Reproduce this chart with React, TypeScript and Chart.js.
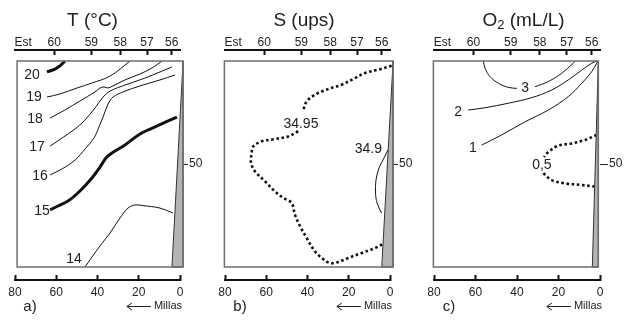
import React, { useEffect, useRef } from 'react';
import { Chart, registerables } from 'chart.js';
Chart.register(...registerables);

const FONT = '"Liberation Sans", Arial, Helvetica, sans-serif';

// ---- axis ticks ----
const milesTicks = [0, 20, 40, 60, 80];
const stationNames = ['Est', '60', '59', '58', '57', '56'];
const stationMiles = [76, 61, 43, 29, 16, 4];
const depthTicks = [50];
const boxDepth = [0, 100];

type Pt = number[] | null;

// ---- panel a: temperature (miles, depth) ----
const T20: Pt[] = [[64.5, 5.3], [60.6, 3.9], [58.2, 2.4], [55.8, 0]];
const T19: Pt[] = [[64.5, 17.5], [58.2, 16.0], [49.9, 13.1], [42.7, 10.7], [33.9, 7.3], [24.2, 0]];
const T18: Pt[] = [[63.0, 27.7], [55.8, 23.8], [48.5, 19.4], [41.2, 15.0], [38.8, 13.1], [36.8, 12.6], [34.9, 13.1], [32.5, 12.1], [26.7, 9.2], [19.4, 6.3], [13.6, 3.4], [8.7, 0]];
const T17: Pt[] = [[63.0, 41.3], [57.2, 37.4], [50.9, 33.0], [46.5, 29.1], [41.2, 22.8], [37.3, 17.5], [33.9, 14.6], [26.7, 11.7], [17.0, 8.3], [9.7, 5.3], [3.9, 2.9]];
const T16: Pt[] = [[63.0, 55.3], [57.2, 52.4], [50.9, 48.1], [45.6, 42.2], [41.7, 37.4], [39.3, 32.0], [37.3, 27.2], [34.9, 20.9], [32.5, 17.5], [27.6, 15.0], [19.4, 12.1], [9.7, 9.2], [2.4, 6.8]];
const T15: Pt[] = [[63.0, 72.3], [59.2, 70.4], [54.3, 68.0], [48.5, 63.1], [42.7, 56.8], [38.8, 51.5], [35.9, 47.1], [33.0, 44.7], [26.7, 40.8], [19.4, 35.4], [12.1, 32.0], [1.5, 27.2]];
const T14: Pt[] = [[46.1, 100], [40.2, 91.7], [35.4, 85.4], [33.9, 83.5], [29.1, 76.2], [25.2, 71.4], [21.8, 69.9], [17.9, 70.2], [9.7, 71.4], [3.4, 73.8]];
const tLabels = ['20', '19', '18', '17', '16', '15', '14'];
const tLabelPos = [[71.8, 6.8], [70.8, 17.5], [70.3, 28.2], [69.3, 41.7], [67.9, 55.8], [66.9, 72.8], [51.4, 96.1]];
const shelfA = [[-1.5, 0], [3.9, 100], [-1.5, 100]];
const boxA = [79, -1.5];

// ---- panel b: salinity ----
const S3495: Pt[] = [[-0.8, 2.3], [5.7, 4.2], [12.1, 5.8], [17.0, 8.3], [23.4, 11.5], [29.9, 13.6], [36.4, 16.4], [40.4, 19.6], [42.0, 23.6], null, [44.5, 34.1], [49.3, 36.6], [55.8, 37.9], [62.2, 39.0], [66.3, 41.4], [67.1, 44.7], [67.4, 49.5], [65.5, 53.5], [60.6, 58.4], [55.8, 63.3], [51.7, 66.5], [47.7, 68.9], [46.1, 74.6], [43.6, 80.2], [40.4, 85.9], [36.4, 92.4], [33.1, 95.6], [29.1, 98.1], [25.1, 97.6], [20.2, 95.6], [13.7, 93.2], [7.3, 90.8], [3.2, 88.8]];
const S349: Pt[] = [[1.0, 43.2], [2.9, 47.1], [5.3, 51.9], [6.8, 57.8], [7.0, 64.1], [6.3, 68.9], [4.1, 73.8]];
const sLabels = ['34.95', '34.9'];
const sLabelPos = [[43.2, 30.5], [10.5, 42.6]];
const shelfB = [[-1.5, 0], [4.0, 100], [-1.5, 100]];
const boxB = [80.3, -1.5];

// ---- panel c: oxygen ----
const O3: Pt[] = [[56.2, 0], [55.4, 3.5], [53.0, 7.6], [49.0, 10.8], [44.2, 12.8], [40.1, 13.3], null, [31.3, 12.5], [24.9, 10.0], [18.5, 6.0], [12.9, 1.1], [12.0, 0]];
const O2: Pt[] = [[63.5, 23.8], [55.4, 22.7], [44.2, 20.5], [32.9, 17.8], [23.3, 14.1], [15.3, 9.2], [8.8, 4.4], [4.0, 1.1], [1.4, 0]];
const O1: Pt[] = [[57.0, 40.8], [47.4, 35.9], [36.1, 29.5], [24.9, 23.8], [15.3, 17.3], [8.8, 10.8], [4.0, 5.2], [1.6, 1.1], [0.8, 0]];
const O05: Pt[] = [[1.6, 35.9], [7.2, 38.3], [13.6, 40.0], [20.1, 41.1], [24.9, 44.2], [27.0, 46.6], null, [27.3, 54.5], [23.3, 57.8], [16.9, 59.4], [8.8, 60.2], [2.4, 61.0]];
const oLabels = ['3', '2', '1', '0,5'];
const oLabelPos = [[36.1, 13.1], [68.4, 24.8], [61.2, 42.2], [28.0, 50.5]];
const shelfC = [[0.8, 0], [3.7, 100], [0.8, 100]];
const boxC = [80.3, 0.8];

const Y_MIN = -5.34;
const Y_MAX = 106.31;

type Contour = { pts: Pt[]; width: number; dotted?: boolean };
type TitlePart = { t: string; size: number; dy: number };
type Panel = {
  title: TitlePart[];
  letter: string;
  contours: Contour[];
  labels: string[];
  labelPos: number[][];
  shelf: number[][];
  box: number[];
  left: number;
  width: number;
  padL: number;
  rightW: number;
  titleOff: number;
};

const panels: Panel[] = [
  {
    title: [{ t: 'T (°C)', size: 19, dy: 0 }],
    letter: 'a)',
    contours: [
      { pts: T20, width: 3 }, { pts: T19, width: 1 }, { pts: T18, width: 1 }, { pts: T17, width: 1 },
      { pts: T16, width: 1 }, { pts: T15, width: 3 }, { pts: T14, width: 1 },
    ],
    labels: tLabels, labelPos: tLabelPos, shelf: shelfA, box: boxA,
    left: 0, width: 205, padL: 15, rightW: 25, titleOff: 77.5,
  },
  {
    title: [{ t: 'S (ups)', size: 19, dy: 0 }],
    letter: 'b)',
    contours: [{ pts: S3495, width: 2.6, dotted: true }, { pts: S349, width: 1 }],
    labels: sLabels, labelPos: sLabelPos, shelf: shelfB, box: boxB,
    left: 205, width: 210, padL: 20, rightW: 25, titleOff: 79,
  },
  {
    title: [{ t: 'O', size: 19, dy: 0 }, { t: '2', size: 13, dy: 4 }, { t: ' (mL/L)', size: 19, dy: 0 }],
    letter: 'c)',
    contours: [
      { pts: O3, width: 1 }, { pts: O2, width: 1 }, { pts: O1, width: 1 }, { pts: O05, width: 2.6, dotted: true },
    ],
    labels: oLabels, labelPos: oLabelPos, shelf: shelfC, box: boxC,
    left: 415, width: 212, padL: 19, rightW: 27, titleOff: 89.5,
  },
];

function toXY(pts: Pt[]) {
  const out: { x: number; y: number | null }[] = [];
  let last = 0;
  for (const p of pts) {
    if (p === null) out.push({ x: last, y: null });
    else { out.push({ x: p[0], y: p[1] }); last = p[0]; }
  }
  return out;
}

function decor(p: Panel) {
  return {
    id: 'decor',
    afterDraw(chart: any) {
      const { ctx, chartArea, scales } = chart;
      const X = (v: number) => scales.x.getPixelForValue(v);
      const Y = (v: number) => scales.y.getPixelForValue(v);
      ctx.save();
      // shelf
      ctx.beginPath();
      p.shelf.forEach(([m, d], i) => (i ? ctx.lineTo(X(m), Y(d)) : ctx.moveTo(X(m), Y(d))));
      ctx.closePath();
      ctx.fillStyle = '#b4b4b4';
      ctx.fill();
      ctx.strokeStyle = '#333';
      ctx.lineWidth = 1;
      ctx.stroke();
      // frame
      ctx.strokeStyle = '#6e6e6e';
      ctx.lineWidth = 1.5;
      const x0 = X(p.box[0]), x1 = X(p.box[1]);
      const y0 = Y(boxDepth[0]), y1 = Y(boxDepth[1]);
      ctx.strokeRect(x0, y0, x1 - x0, y1 - y0);
      // contour labels
      ctx.fillStyle = '#222';
      ctx.font = `14px ${FONT}`;
      ctx.textAlign = 'center';
      ctx.textBaseline = 'middle';
      p.labels.forEach((t, i) => ctx.fillText(t, X(p.labelPos[i][0]), Y(p.labelPos[i][1])));
      // title
      let total = 0;
      p.title.forEach((part) => { ctx.font = `${part.size}px ${FONT}`; total += ctx.measureText(part.t).width; });
      let tx = chartArea.left + p.titleOff - total / 2;
      ctx.textAlign = 'left';
      p.title.forEach((part) => {
        ctx.font = `${part.size}px ${FONT}`;
        ctx.fillText(part.t, tx, 21 + part.dy);
        tx += ctx.measureText(part.t).width;
      });
      // panel letter
      ctx.font = `15px ${FONT}`;
      ctx.textAlign = 'center';
      ctx.fillText(p.letter, chartArea.left + 15, 307);
      // Millas with arrow
      ctx.font = `11px ${FONT}`;
      ctx.textAlign = 'right';
      const mr = chartArea.right + 2;
      ctx.fillText('Millas', mr, 306);
      const ml = mr - ctx.measureText('Millas').width;
      const ay = 306.5;
      ctx.strokeStyle = '#222';
      ctx.lineWidth = 1;
      ctx.beginPath();
      ctx.moveTo(ml - 3, ay);
      ctx.lineTo(ml - 27, ay);
      ctx.moveTo(ml - 22, ay - 3.5);
      ctx.lineTo(ml - 27, ay);
      ctx.lineTo(ml - 22, ay + 3.5);
      ctx.stroke();
      ctx.restore();
    },
  };
}

function PanelChart({ p }: { p: Panel }) {
  const ref = useRef<HTMLCanvasElement | null>(null);
  useEffect(() => {
    if (!ref.current) return;
    const chart = new Chart(ref.current, {
      type: 'scatter',
      data: {
        datasets: p.contours.map((c) => ({
          data: toXY(c.pts) as any,
          showLine: true,
          borderColor: '#111',
          borderWidth: c.width,
          borderDash: c.dotted ? [2.6, 2.6] : [],
          borderCapStyle: 'butt',
          pointRadius: 0,
          pointHoverRadius: 0,
          tension: 0.35,
          clip: false as any,
          fill: false,
          spanGaps: false,
          xAxisID: 'x',
          yAxisID: 'y',
        })),
      },
      options: {
        animation: false,
        responsive: false,
        maintainAspectRatio: false,
        events: [],
        layout: { padding: { left: p.padL, right: 0, top: 0, bottom: 0 }, autoPadding: false },
        plugins: { legend: { display: false }, tooltip: { enabled: false }, title: { display: false } },
        scales: {
          x: {
            type: 'linear', position: 'bottom', reverse: true, min: 0, max: 80,
            afterBuildTicks: (s: any) => { s.ticks = milesTicks.map((v) => ({ value: v })); },
            afterFit: (s: any) => { s.height = 40; },
            border: { display: true, color: '#111', width: 2 },
            grid: { drawOnChartArea: false, drawTicks: true, tickLength: -5, tickColor: '#111', tickWidth: 2 },
            ticks: { autoSkip: false, maxRotation: 0, padding: 10, color: '#222', font: { size: 12, family: FONT } },
          },
          x2: {
            type: 'linear', position: 'top', reverse: true, min: 0, max: 80,
            afterBuildTicks: (s: any) => { s.ticks = stationMiles.map((v) => ({ value: v })); },
            afterFit: (s: any) => { s.height = 50; },
            border: { display: true, color: '#111', width: 2 },
            grid: {
              drawOnChartArea: false, drawTicks: true, tickLength: -5, tickWidth: 2,
              tickColor: (ctx: any) => (ctx.tick && ctx.tick.value === stationMiles[0] ? 'rgba(0,0,0,0)' : '#111'),
            },
            ticks: {
              autoSkip: false, maxRotation: 0, padding: 5, color: '#222', font: { size: 12, family: FONT },
              callback: (v: any) => stationNames[stationMiles.indexOf(Number(v))],
            },
          },
          y: { type: 'linear', display: false, reverse: true, min: Y_MIN, max: Y_MAX },
          y2: {
            type: 'linear', position: 'right', reverse: true, min: Y_MIN, max: Y_MAX,
            afterBuildTicks: (s: any) => { s.ticks = depthTicks.map((v) => ({ value: v })); },
            afterFit: (s: any) => { s.width = p.rightW; },
            border: { display: false },
            grid: { drawOnChartArea: false, drawTicks: true, tickLength: 8, tickColor: '#222', tickWidth: 1 },
            ticks: { padding: 1, color: '#222', font: { size: 12, family: FONT } },
          },
        },
      } as any,
      plugins: [decor(p)],
    });
    return () => chart.destroy();
  }, [p]);
  return (
    <canvas
      ref={ref}
      width={p.width}
      height={320}
      style={{ position: 'absolute', left: p.left, top: 0, width: p.width, height: 320 }}
    />
  );
}

export default function App() {
  return (
    <div style={{ position: 'absolute', left: 0, top: 0, width: 627, height: 320, background: '#fff' }}>
      {panels.map((p, i) => (
        <PanelChart key={i} p={p} />
      ))}
    </div>
  );
}
